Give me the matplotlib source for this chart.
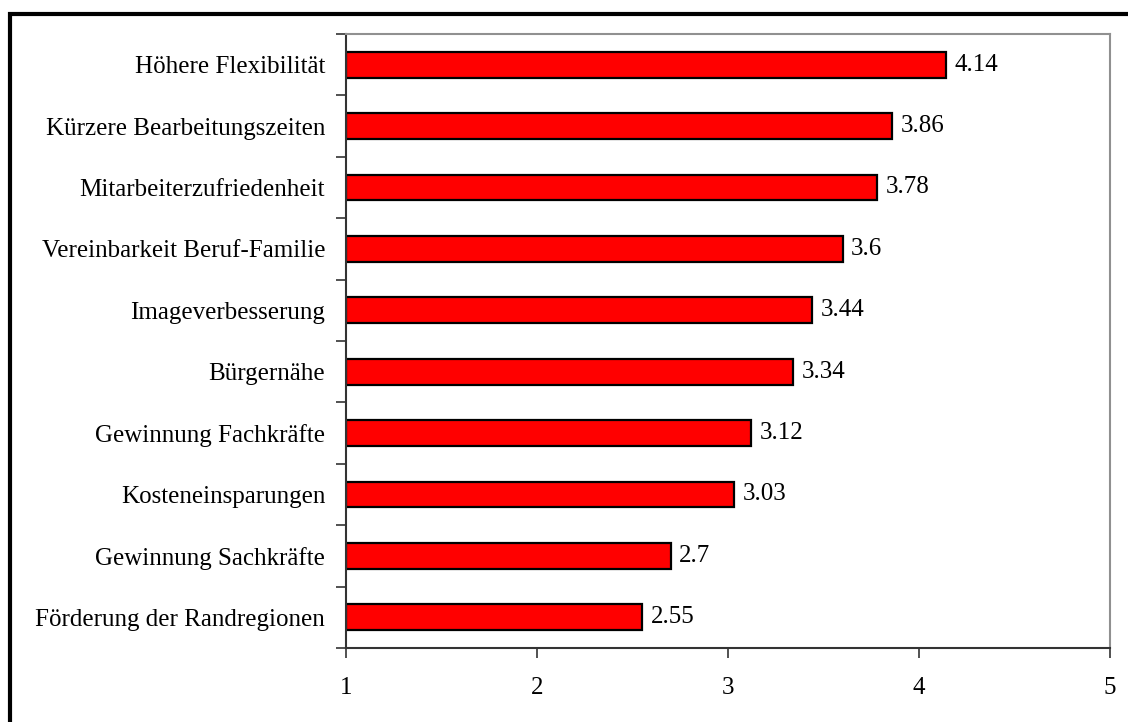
import matplotlib.pyplot as plt
from matplotlib.patches import Rectangle

categories = [
    "Förderung der Randregionen",
    "Gewinnung Sachkräfte",
    "Kosteneinsparungen",
    "Gewinnung Fachkräfte",
    "Bürgernähe",
    "Imageverbesserung",
    "Vereinbarkeit Beruf-Familie",
    "Mitarbeiterzufriedenheit",
    "Kürzere Bearbeitungszeiten",
    "Höhere Flexibilität",
]
values = [2.55, 2.7, 3.03, 3.12, 3.34, 3.44, 3.6, 3.78, 3.86, 4.14]
x_ticks = [1, 2, 3, 4, 5]

plt.rcParams["font.family"] = ["Liberation Serif", "DejaVu Serif"]

W, H = 1128, 722
fig = plt.figure(figsize=(W / 100, H / 100), dpi=100)
ax = fig.add_axes([346 / W, 1 - 648 / H, (1110 - 346) / W, (648 - 34) / H])

# outer frame: only the left and top edges fall inside the image
fig.patches.append(Rectangle((9.5 / W, -0.1), 1.2, 1 - 13.5 / H + 0.1,
                             transform=fig.transFigure, fill=False,
                             edgecolor="black", linewidth=3))

base = 1
pos = range(len(categories))
ax.barh(pos, [v - base for v in values], left=base, height=0.42,
        color="#ff0000", edgecolor="black", linewidth=1.6)

for i, v in enumerate(values):
    ax.text(v + 0.045, i, f"{v:g}", va="center", ha="left", fontsize=18)

ax.set_xlim(1, 5)
ax.set_ylim(-0.5, len(categories) - 0.5)
ax.set_xticks(x_ticks)
ax.set_xticklabels([str(t) for t in x_ticks], fontsize=18)
ax.set_yticks([i - 0.5 for i in range(len(categories) + 1)], minor=False)
ax.set_yticklabels([])
ax.set_yticks(list(pos), minor=True)
ax.set_yticklabels(categories, minor=True, fontsize=18)
ax.tick_params(axis="y", which="minor", length=0, pad=15)
ax.tick_params(axis="y", which="major", length=7, width=1.2, color="#333333")
ax.tick_params(axis="x", length=7, width=1.2, color="#333333", pad=14)

ax.spines["left"].set_color("#333333")
ax.spines["bottom"].set_color("#333333")
ax.spines["top"].set_color("#909090")
ax.spines["right"].set_color("#909090")
for s in ax.spines.values():
    s.set_linewidth(1.5)

fig.savefig("out.png", dpi=100)
